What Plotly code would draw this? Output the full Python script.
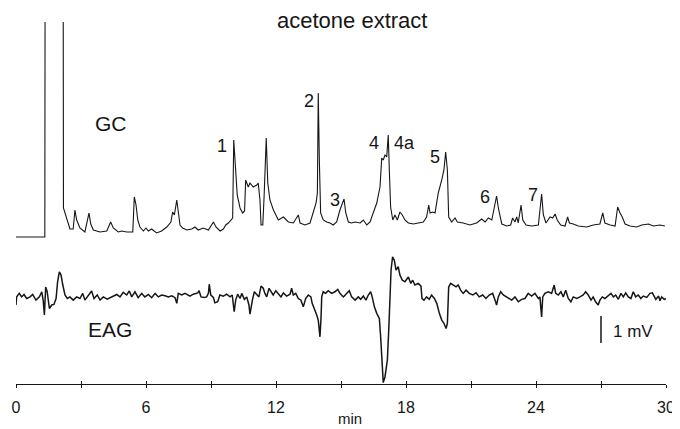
import plotly.graph_objects as go

# GC trace (min, detector response, arbitrary units; solvent front is off scale)
gc_time = [0.00, 1.29, 1.33, 1.35, 2.17, 2.19, 2.26, 2.41, 2.49, 2.64, 2.72, 2.80, 2.95, 3.18,
           3.37, 3.45, 3.57, 3.88, 4.19, 4.37, 4.49, 4.72, 4.88, 5.11, 5.39, 5.46, 5.54, 5.62,
           5.72, 5.88, 6.00, 6.11, 6.26, 6.49, 6.72, 6.96, 7.15, 7.23, 7.31, 7.42, 7.49, 7.57,
           7.69, 7.88, 8.11, 8.26, 8.41, 8.64, 8.88, 9.11, 9.23, 9.42, 9.57, 9.68, 9.80, 9.91,
           10.00, 10.05, 10.14, 10.21, 10.34, 10.46, 10.55, 10.60, 10.72, 10.80, 10.95, 11.11,
           11.18, 11.26, 11.31, 11.39, 11.45, 11.55, 11.62, 11.72, 11.88, 12.11, 12.34, 12.57,
           12.80, 13.03, 13.11, 13.34, 13.57, 13.72, 13.85, 13.91, 13.95, 14.00, 14.06, 14.18,
           14.34, 14.49, 14.64, 14.80, 14.95, 15.14, 15.22, 15.34, 15.49, 15.65, 15.88, 16.03,
           16.19, 16.34, 16.49, 16.65, 16.80, 16.88, 16.95, 17.03, 17.11, 17.18, 17.23, 17.29,
           17.39, 17.49, 17.60, 17.72, 17.83, 17.95, 18.11, 18.34, 18.57, 18.80, 18.95, 19.05,
           19.11, 19.23, 19.34, 19.49, 19.65, 19.75, 19.83, 19.91, 19.97, 20.11, 20.26, 20.37,
           20.64, 20.95, 21.26, 21.49, 21.65, 21.80, 21.96, 22.06, 22.18, 22.28, 22.42, 22.65,
           22.83, 22.92, 23.03, 23.11, 23.18, 23.31, 23.39, 23.54, 23.80, 24.11, 24.26, 24.34,
           24.46, 24.65, 24.77, 24.88, 24.98, 25.14, 25.34, 25.46, 25.54, 25.72, 25.95, 26.34,
           26.64, 26.95, 27.08, 27.18, 27.42, 27.65, 27.77, 27.88, 27.98, 28.11, 28.34, 28.65,
           28.88, 29.19, 29.42, 29.72, 29.95]
gc_signal = [0, 0, 0, 400, 400, 29, 24, 12, 8, 8, 27, 17, 9, 5,
             24, 13, 7, 5, 6, 15, 9, 5, 6, 5, 5, 40, 32, 17,
             10, 6, 9, 6, 8, 4, 6, 10, 15, 25, 22, 37, 25, 12,
             9, 7, 8, 10, 7, 9, 7, 15, 10, 6, 8, 12, 14, 17,
             19, 97, 62, 42, 29, 24, 26, 57, 50, 54, 50, 52,
             54, 37, 12, 12, 40, 99, 54, 37, 27, 17, 20, 15,
             14, 22, 14, 12, 14, 24, 34, 44, 144, 77, 24, 17,
             15, 14, 12, 15, 27, 38, 24, 15, 14, 15, 14, 17,
             12, 15, 24, 34, 50, 79, 77, 82, 80, 102, 67, 30,
             17, 22, 17, 25, 22, 17, 14, 13, 14, 15, 20, 32,
             24, 25, 24, 44, 57, 67, 85, 67, 20, 15, 19, 15,
             14, 12, 14, 18, 15, 19, 17, 27, 41, 27, 13, 11,
             12, 19, 15, 20, 14, 32, 17, 12, 11, 12, 43, 22,
             14, 20, 19, 23, 17, 12, 11, 20, 14, 13, 11, 10,
             12, 13, 24, 14, 12, 11, 30, 24, 20, 13, 11, 10,
             12, 13, 11, 12, 11]

# EAG trace (min, mV)
eag_time = [0.00, 0.03, 0.15, 0.26, 0.37, 0.49, 0.65, 0.77, 0.92, 1.08, 1.19, 1.26, 1.31, 1.37,
            1.44, 1.54, 1.65, 1.75, 1.85, 1.92, 2.00, 2.08, 2.16, 2.26, 2.37, 2.49, 2.64, 2.80,
            2.95, 3.08, 3.18, 3.34, 3.49, 3.60, 3.75, 3.88, 4.03, 4.21, 4.34, 4.49, 4.65, 4.80,
            4.95, 5.11, 5.23, 5.34, 5.49, 5.64, 5.80, 5.95, 6.11, 6.26, 6.42, 6.57, 6.72, 6.88,
            7.03, 7.19, 7.34, 7.42, 7.49, 7.65, 7.80, 8.03, 8.18, 8.39, 8.45, 8.54, 8.69, 8.80,
            8.88, 8.92, 8.99, 9.11, 9.18, 9.31, 9.41, 9.57, 9.72, 9.88, 9.98, 10.07, 10.14, 10.23,
            10.34, 10.42, 10.54, 10.65, 10.75, 10.80, 10.85, 10.91, 11.00, 11.11, 11.21, 11.31,
            11.41, 11.49, 11.57, 11.68, 11.77, 11.87, 11.99, 12.11, 12.23, 12.34, 12.49, 12.65,
            12.72, 12.80, 12.91, 13.03, 13.15, 13.26, 13.37, 13.49, 13.61, 13.67, 13.77, 13.88,
            13.95, 14.03, 14.08, 14.11, 14.18, 14.29, 14.41, 14.57, 14.72, 14.85, 14.95, 15.11,
            15.26, 15.38, 15.49, 15.65, 15.80, 15.91, 16.03, 16.15, 16.26, 16.37, 16.44, 16.54,
            16.65, 16.77, 16.83, 16.90, 16.95, 17.03, 17.14, 17.21, 17.26, 17.31, 17.38, 17.46,
            17.54, 17.64, 17.72, 17.83, 17.95, 18.11, 18.22, 18.31, 18.41, 18.57, 18.69, 18.74,
            18.83, 18.95, 19.07, 19.18, 19.31, 19.42, 19.54, 19.65, 19.75, 19.85, 19.91, 19.97,
            20.06, 20.18, 20.31, 20.41, 20.52, 20.64, 20.77, 20.92, 21.08, 21.23, 21.38, 21.54,
            21.69, 21.84, 22.00, 22.11, 22.18, 22.26, 22.37, 22.49, 22.65, 22.72, 22.88, 23.03,
            23.18, 23.34, 23.49, 23.64, 23.80, 23.95, 24.11, 24.18, 24.26, 24.31, 24.41, 24.57,
            24.72, 24.84, 24.91, 25.03, 25.15, 25.26, 25.37, 25.49, 25.61, 25.72, 25.88, 26.03,
            26.18, 26.29, 26.41, 26.54, 26.64, 26.75, 26.87, 26.95, 27.06, 27.18, 27.34, 27.46,
            27.57, 27.68, 27.80, 27.92, 28.03, 28.14, 28.26, 28.38, 28.49, 28.60, 28.72, 28.84,
            28.95, 29.11, 29.26, 29.37, 29.53, 29.66, 29.72, 29.80, 29.92, 30.03]
eag_mv = [-0.33, -0.03, 0.10, -0.03, 0.06, -0.09, -0.03, 0.06, -0.15, -0.03, 0.16, -0.19, -0.70, 0.34,
          0.16, -0.46, -0.33, -0.31, -0.09, 0.53, 0.90, 0.78, 0.41, 0.04, -0.09, -0.03, -0.15, -0.03,
          -0.09, 0.10, -0.15, 0.04, 0.19, -0.09, 0.04, -0.15, -0.03, -0.11, -0.06, -0.03, 0.06, -0.03,
          0.14, 0.04, 0.19, -0.03, 0.16, -0.06, 0.10, -0.03, 0.06, -0.06, 0.10, -0.03, 0.04, 0.01,
          -0.03, 0.01, -0.06, -0.27, 0.10, 0.04, 0.10, 0.00, 0.07, 0.12, 0.20, -0.03, -0.05, -0.03,
          0.10, 0.44, 0.04, -0.05, -0.25, -0.21, 0.04, 0.00, 0.07, -0.03, 0.04, -0.58, -0.15, 0.07,
          -0.09, 0.10, -0.12, -0.03, -0.33, -0.67, -0.40, -0.15, 0.16, 0.04, -0.03, 0.37,
          0.29, 0.10, -0.03, 0.29, 0.16, 0.04, 0.20, 0.10, -0.03, 0.12, 0.00, 0.07,
          0.29, 0.04, 0.10, -0.09, -0.15, -0.40, -0.09, 0.04, -0.03, -0.27, -0.46, -0.70,
          -0.89, -1.51, -0.77, -0.03, 0.16, 0.10, 0.20, 0.10, 0.16, 0.25, 0.10, -0.03,
          0.10, 0.20, -0.03, -0.15, -0.03, -0.12, 0.00, -0.15, 0.04, 0.16, -0.03, -0.40,
          -0.64, -0.83, -1.51, -2.49, -3.21, -2.99, -2.37, -1.14, 0.10, 0.96, 1.46, 1.33,
          0.96, 1.09, 0.78, 0.59, 0.53, 0.71, 0.47, 0.59, 0.41, 0.47, 0.37, -0.09,
          -0.15, -0.03, -0.12, 0.04, -0.09, -0.27, -0.64, -0.89, -1.01, -1.20, -1.01, 0.34,
          0.47, 0.41, 0.34, 0.41, 0.22, 0.10, 0.22, 0.10, 0.04, 0.12, -0.03, 0.04,
          -0.09, 0.04, 0.10, -0.15, -0.33, -0.03, 0.16, 0.04, -0.03, -0.09, -0.15, -0.03,
          -0.21, -0.12, -0.09, 0.10, 0.00, 0.10, -0.09, -0.03, -0.77, -0.03, 0.10, 0.16,
          0.10, 0.41, 0.10, 0.04, 0.16, -0.03, 0.22, -0.09, -0.21, -0.03, -0.09, -0.03,
          0.04, 0.16, 0.04, -0.15, -0.03, -0.21, -0.33, -0.15, -0.03, -0.09, 0.00, 0.10,
          -0.03, 0.04, -0.12, 0.10, -0.03, 0.12, -0.03, -0.09, 0.16, -0.03, 0.04, -0.09,
          0.00, -0.05, 0.10, 0.12, -0.12, 0.00, -0.17, -0.03, -0.12, -0.09]

tick_vals = [0, 3, 6, 9, 12, 15, 18, 21, 24, 27, 30]
tick_text = ["0", "", "6", "", "12", "", "18", "", "24", "", "30"]

peak_names = ["1", "2", "3", "4", "4a", "5", "6", "7"]
# label anchor (min, GC units)
peak_label_pos = [(9.51, 91), (13.52, 136), (14.72, 37), (16.52, 94),
                  (17.91, 94), (19.34, 80), (21.65, 40), (23.86, 42)]

FONT = "Liberation Sans, Arial, Helvetica, sans-serif"
INK = "#161616"

fig = go.Figure()
fig.add_trace(go.Scatter(x=gc_time, y=gc_signal, mode="lines", xaxis="x", yaxis="y",
                         line=dict(color=INK, width=1.1), hoverinfo="skip"))
fig.add_trace(go.Scatter(x=eag_time, y=eag_mv, mode="lines", xaxis="x", yaxis="y2",
                         line=dict(color=INK, width=1.5), hoverinfo="skip"))
# carrier for the upward half of the tick marks
fig.add_trace(go.Scatter(x=[], y=[], xaxis="x2", yaxis="y2", showlegend=False))


def label(text, x, y, size):
    return dict(text=text, x=x, y=y, xref="paper", yref="paper", showarrow=False,
                xanchor="center", yanchor="middle", font=dict(size=size))


ann = [
    label("acetone extract", 0.517, 0.968, 22),
    label("GC", 0.146, 0.694, 21),
    label("EAG", 0.145, 0.144, 21),
    label("1 mV", 0.949, 0.139, 17),
    label("min", 0.514, -0.093, 15),
]
for name, (px_, py_) in zip(peak_names, peak_label_pos):
    ann.append(dict(text=name, x=px_, y=py_, xref="x", yref="y", showarrow=False,
                    xanchor="center", yanchor="middle", font=dict(size=18)))

# page body adds an 8px offset, so the figure is 8px smaller each way
fig.update_layout(
    width=672, height=421,
    margin=dict(l=8, r=14, t=0, b=45, autoexpand=False),
    paper_bgcolor="white", plot_bgcolor="white",
    showlegend=False,
    font=dict(family=FONT, color=INK),
    xaxis=dict(range=[0, 30], anchor="y2", showline=True, linecolor=INK, linewidth=1,
               ticks="outside", ticklen=3, tickwidth=1, tickcolor=INK,
               tickvals=tick_vals, ticktext=tick_text, ticklabelstandoff=6,
               tickfont=dict(size=16), showgrid=False, zeroline=False, automargin=False),
    xaxis2=dict(range=[0, 30], overlaying="x", anchor="y2", showline=False,
                ticks="inside", ticklen=3, tickwidth=1, tickcolor=INK, automargin=False,
                tickvals=tick_vals, showticklabels=False, showgrid=False, zeroline=False),
    yaxis=dict(domain=[0.383, 0.9628], range=[-3, 215], visible=False, automargin=False),
    yaxis2=dict(domain=[0, 0.388], range=[-3.26, 2.15], visible=False, automargin=False),
    annotations=ann,
    shapes=[dict(type="line", xref="x", yref="y2", x0=27.0, x1=27.0, y0=-1.74, y1=-0.74,
                 line=dict(color=INK, width=1.5))],
)

fig.write_html("out.html")
